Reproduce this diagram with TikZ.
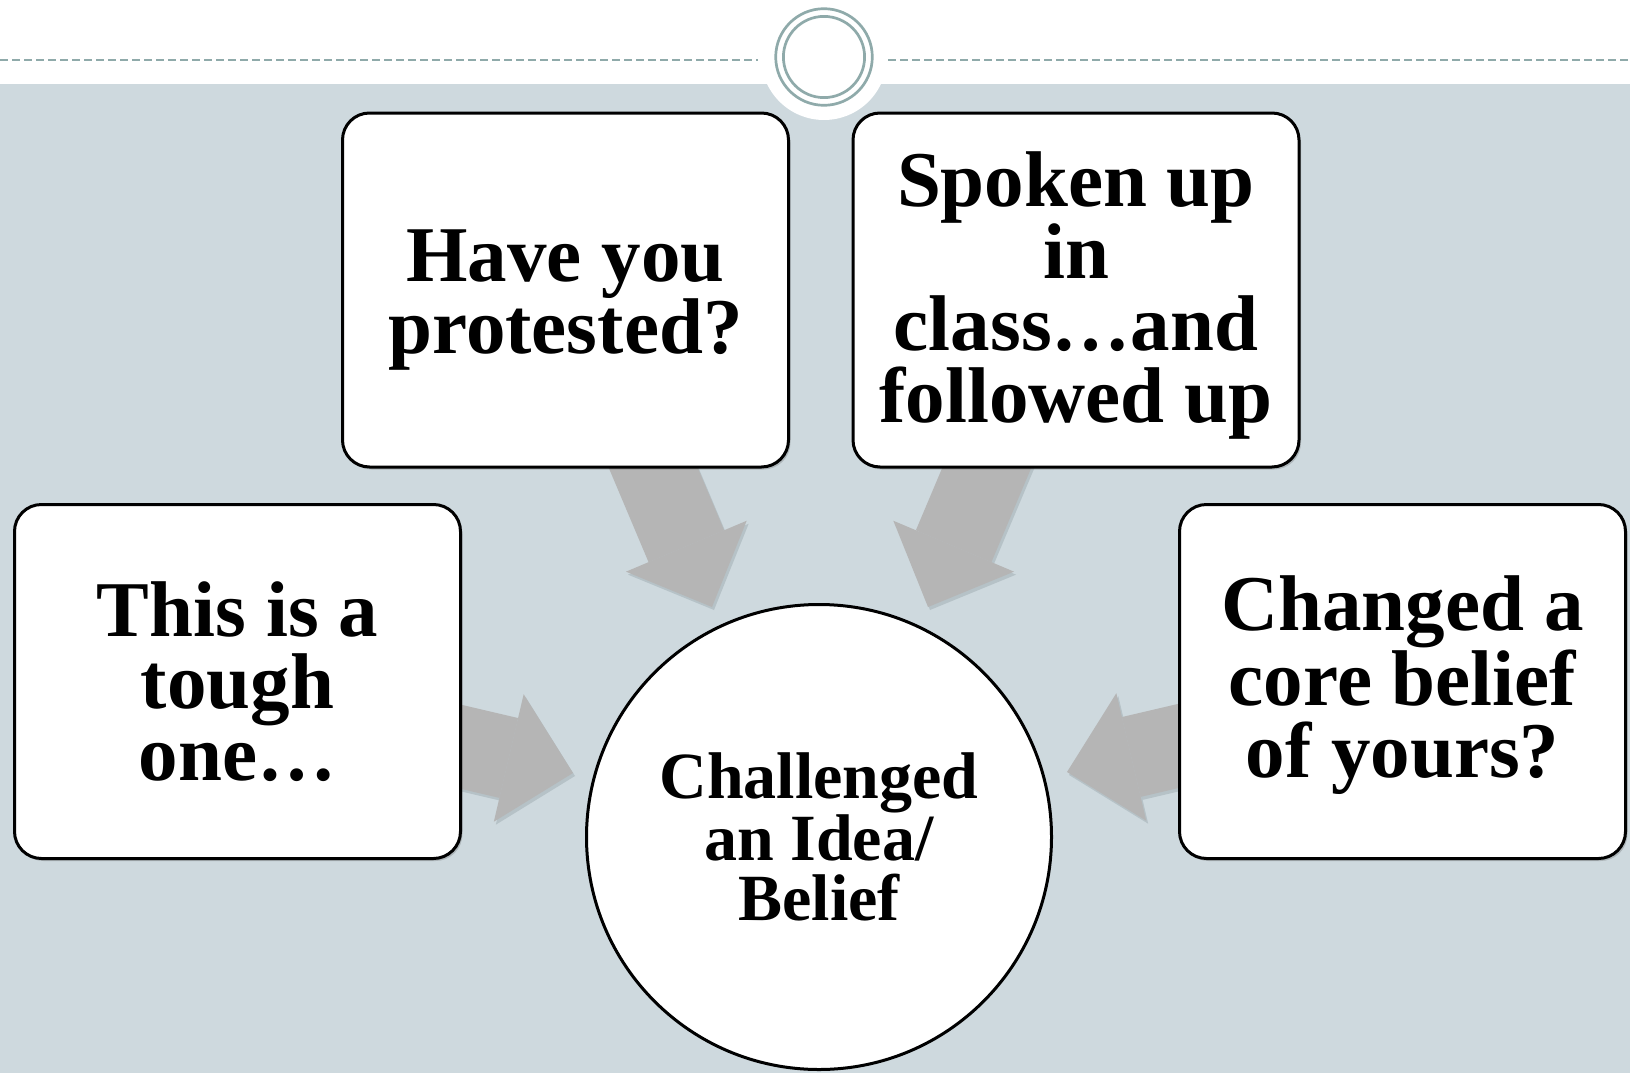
\documentclass[tikz,border=0pt]{standalone}
\usepackage{fontspec}
\setmainfont{Liberation Serif}
\usetikzlibrary{arrows.meta,shadows}

\definecolor{band}{HTML}{CED9DE}
\definecolor{ringteal}{HTML}{8FAAAA}
\definecolor{arrowgray}{HTML}{B5B5B5}
\definecolor{arrowshade}{HTML}{9AA6AC}

\newcommand{\liftline}[1]{\rule{0pt}{#1}}

\pgfdeclarelayer{back}
\pgfdeclarelayer{arrows}
\pgfsetlayers{back,arrows,main}

\begin{document}
\begin{tikzpicture}[x=1pt,y=-1pt]
    \tikzstyle{box}=[draw=black, line width=3pt, fill=white, rounded corners=27pt,
        minimum width=446pt, minimum height=354pt, inner sep=0pt, align=center,
        font=\bfseries\fontsize{79}{72}\selectfont,
        drop shadow={shadow xshift=2pt, shadow yshift=-2.5pt, opacity=.25, fill=black!70}]
    \tikzstyle{hub}=[circle, draw=black, line width=3pt, fill=white, minimum size=465pt,
        inner sep=0pt, align=center, font=\bfseries\fontsize{66}{60}\selectfont]
    \tikzstyle{fat}=[line width=82pt, draw=arrowgray,
        -{Triangle[width=131pt, length=66pt, line width=0pt]}]
    \tikzstyle{shade}=[draw=arrowshade, opacity=.45, transform canvas={shift={(2,3)}}]
    \useasboundingbox (0,0) rectangle (1630,1073);

    \node[box] (have) at (565.5,290) {\liftline{72pt}Have you\\protested?};
    \node[box] (spoken) at (1076,290) {\liftline{66pt}Spoken up\\in\\class…and\\followed up};
    \node[box] (tough) at (237.5,681.5) {This is a\\tough\\one…};
    \node[box] (core) at (1402.5,681.5) {\liftline{62pt}Changed a\\core belief\\of yours?};
    \node[hub] (idea) at (819,837) {Challenged\\an Idea/\\Belief};

    \coordinate (tipa) at (712,607);
    \coordinate (tipb) at (928,607);
    \coordinate (tipc) at (573,773);
    \coordinate (tipd) at (1067,772);

    \begin{pgfonlayer}{back}
    \fill[band] (0,84) rectangle (1630,1073);
    \fill[white] (824,57) circle (63);
    \draw[ringteal, line width=1.5pt, dash pattern=on 8pt off 4pt] (0,60) -- (758,60);
    \draw[ringteal, line width=1.5pt, dash pattern=on 8pt off 4pt] (888,60) -- (1630,60);
    \draw[ringteal, line width=2.7pt] (824,57) circle (48.3);
    \draw[ringteal, line width=2.7pt] (824,57) circle (40.6);
    \end{pgfonlayer}

    \begin{pgfonlayer}{arrows}
    \draw[fat, shade] ([shift={(58.5,-70)}]have.south) -- (tipa);
    \draw[fat] ([shift={(58.5,-70)}]have.south) -- (tipa);
    \draw[fat, shade] ([shift={(-60,-70)}]spoken.south) -- (tipb);
    \draw[fat] ([shift={(-60,-70)}]spoken.south) -- (tipb);
    \draw[fat, shade] ([shift={(-62,51)}]tough.east) -- (tipc);
    \draw[fat] ([shift={(-62,51)}]tough.east) -- (tipc);
    \draw[fat, shade] ([shift={(62,50)}]core.west) -- (tipd);
    \draw[fat] ([shift={(62,50)}]core.west) -- (tipd);
    \end{pgfonlayer}
\end{tikzpicture}
\end{document}
